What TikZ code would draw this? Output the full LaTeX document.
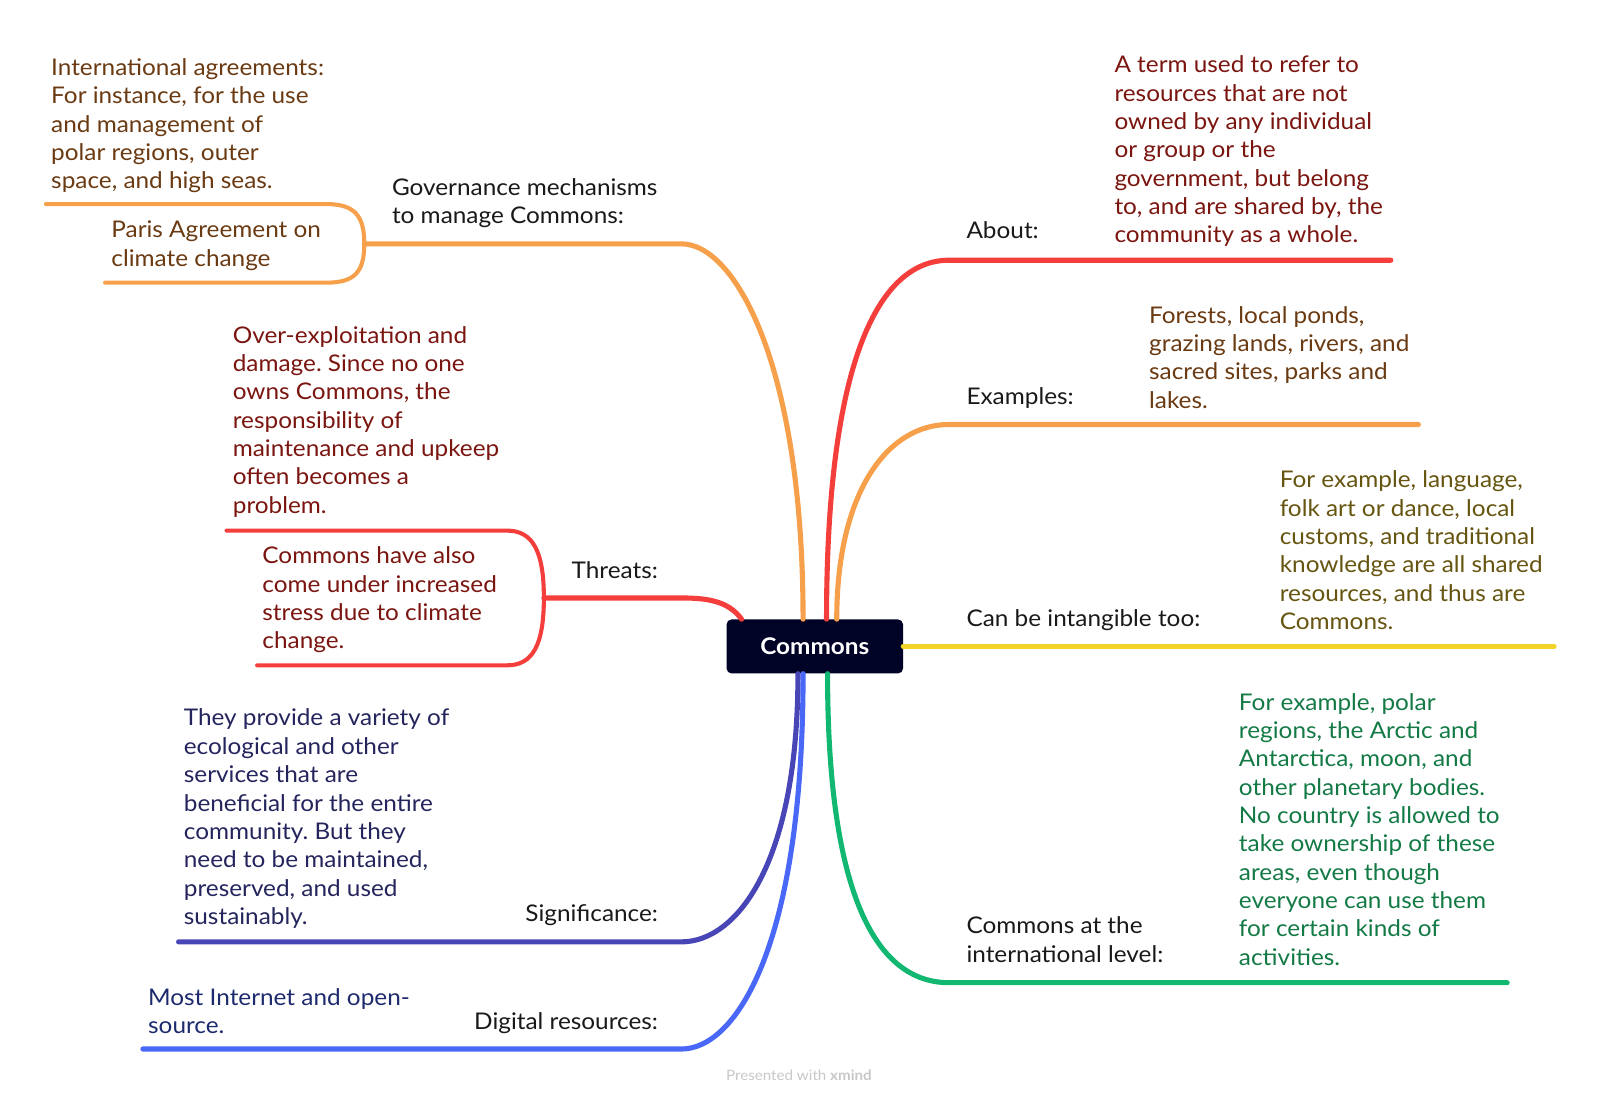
\documentclass[tikz,border=0pt]{standalone}
\usepackage{fontspec}
\setmainfont{Lato}[FakeStretch=1.06]
\frenchspacing
\usetikzlibrary{positioning, calc}
\definecolor{mapnavy}{HTML}{000226}
\definecolor{mapred}{HTML}{F43E3C}
\definecolor{maporange}{HTML}{F6A04B}
\definecolor{mapyellow}{HTML}{F2D328}
\definecolor{mapgreen}{HTML}{12B872}
\definecolor{mapindigo}{HTML}{4845B6}
\definecolor{mapblue}{HTML}{4A68F7}
\definecolor{notered}{HTML}{7A1510}
\definecolor{notebrown}{HTML}{6A3A12}
\definecolor{noteolive}{HTML}{665510}
\definecolor{notegreen}{HTML}{137A45}
\definecolor{noteindigo}{HTML}{25255E}
\definecolor{noteblue}{HTML}{1E2A6E}

\begin{document}
\begin{tikzpicture}[x=1pt, y=-1pt,
                    centraltopic/.style={rectangle, fill=mapnavy, text=white, rounded corners=5pt, minimum width=173pt, minimum height=53pt, font=\fontsize{22.5}{27}\selectfont\bfseries},
                    maintopic/.style={inner sep=0pt, align=left, text=black!90, font=\fontsize{22.5}{27.8}\selectfont},
                    notetext/.style={inner sep=0pt, align=left, font=\fontsize{22.5}{27.8}\selectfont},
                    mainbranch/.style={line width=5pt, line cap=round},
                    subbranch/.style={line width=4pt, line cap=round}]

    \useasboundingbox (0,0) rectangle (1568,1080);

    % Central topic
    \node[centraltopic] (commons) at (798.5,633.5) {Commons};

    % Right topics (anchored at the baseline of the last line)
    \node[maintopic, anchor=base west] (about) at (947,234) {About:};
    \node[maintopic, anchor=base west] (examples) at (947,396) {Examples:};
    \node[maintopic, anchor=base west] (intangible) at (947,614) {Can be intangible too:};
    \node[maintopic, anchor=base west] (international) at (947,943) {Commons at the\\international level:};

    \node[notetext, text=notered, anchor=base west] (aboutnote) at (1092,238) {A term used to refer to\\resources that are not\\owned by any individual\\or group or the\\government, but belong\\to, and are shared by, the\\community as a whole.};
    \node[notetext, text=notebrown, anchor=base west] (examplesnote) at (1126,400) {Forests, local ponds,\\grazing lands, rivers, and\\sacred sites, parks and\\lakes.};
    \node[notetext, text=noteolive, anchor=base west] (intangiblenote) at (1254,617) {For example, language,\\folk art or dance, local\\customs, and traditional\\knowledge are all shared\\resources, and thus are\\Commons.};
    \node[notetext, text=notegreen, anchor=base west] (internationalnote) at (1214,946) {For example, polar\\regions, the Arctic and\\Antarctica, moon, and\\other planetary bodies.\\No country is allowed to\\take ownership of these\\areas, even though\\everyone can use them\\for certain kinds of\\activities.};

    % Left topics
    \node[maintopic, anchor=base west] (governance) at (384,219) {Governance mechanisms\\to manage Commons:};
    \node[maintopic, anchor=base east] (threats) at (645,567) {Threats:};
    \node[maintopic, anchor=base east] (significance) at (645,903) {Significance:};
    \node[maintopic, anchor=base east] (digital) at (645,1009) {Digital resources:};

    \node[notetext, text=notebrown, anchor=base west] (agreementsnote) at (50,185) {International agreements:\\For instance, for the use\\and management of\\polar regions, outer\\space, and high seas.};
    \node[notetext, text=notebrown, anchor=base west] (parisnote) at (109,261) {Paris Agreement on\\climate change};
    \node[notetext, text=notered, anchor=base west] (exploitnote) at (228,503) {Over-exploitation and\\damage. Since no one\\owns Commons, the\\responsibility of\\maintenance and upkeep\\often becomes a\\problem.};
    \node[notetext, text=notered, anchor=base west] (climatenote) at (257,636) {Commons have also\\come under increased\\stress due to climate\\change.};
    \node[notetext, text=noteindigo, anchor=base west] (significancenote) at (180,906) {They provide a variety of\\ecological and other\\services that are\\beneficial for the entire\\community. But they\\need to be maintained,\\preserved, and used\\sustainably.};
    \node[notetext, text=noteblue, anchor=base west] (digitalnote) at (145,1013) {Most Internet and open-\\source.};

    % Branch ends
    \coordinate (about-j) at (930,255);
    \coordinate (about-e) at (1363,255);
    \coordinate (examples-j) at (930,416);
    \coordinate (examples-e) at (1390,416);
    \coordinate (intangible-e) at (1523,633.5);
    \coordinate (international-j) at (930,963);
    \coordinate (international-e) at (1477,963);
    \coordinate (governance-j) at (668,239);
    \coordinate (governance-k) at (357,239);
    \coordinate (agreements-e) at (45,200);
    \coordinate (paris-e) at (103,277);
    \coordinate (threats-j) at (668,586);
    \coordinate (threats-k) at (533,586);
    \coordinate (exploit-e) at (222,520);
    \coordinate (climate-e) at (252,652);
    \coordinate (significance-j) at (668,923);
    \coordinate (significance-e) at (175,923);
    \coordinate (digital-j) at (668,1028);
    \coordinate (digital-e) at (140,1028);

    % Right branches
    \draw[mainbranch, mapred] ([xshift=11.5pt]commons.north) .. controls +(0,-250) and +(-70,0) .. (about-j) -- (about-e);
    \draw[mainbranch, maporange] ([xshift=21.5pt]commons.north) .. controls +(0,-125) and +(-60,0) .. (examples-j) -- (examples-e);
    \draw[mainbranch, mapyellow] (commons.east) -- (intangible-e);
    \draw[mainbranch, mapgreen] ([xshift=12.5pt]commons.south) .. controls +(0,220) and +(-70,0) .. (international-j) -- (international-e);

    % Left branches
    \draw[mainbranch, maporange] ([xshift=-11.5pt]commons.north) .. controls +(0,-250) and +(52,0) .. (governance-j) -- (governance-k);
    \draw[subbranch, maporange] (governance-k) .. controls +(0,-27) and +(28,0) .. (320,200) -- (agreements-e);
    \draw[subbranch, maporange] (governance-k) .. controls +(0,27) and +(28,0) .. (320,277) -- (paris-e);
    \draw[mainbranch, mapred] ([xshift=15pt]commons.north west) .. controls +(-12,-16) and +(30,0) .. (threats-j) -- (threats-k);
    \draw[subbranch, mapred] (threats-k) .. controls +(0,-46) and +(25,0) .. (497,520) -- (exploit-e);
    \draw[subbranch, mapred] (threats-k) .. controls +(0,46) and +(25,0) .. (497,652) -- (climate-e);
    \draw[mainbranch, mapindigo] ([xshift=-16.5pt]commons.south) .. controls +(0,190) and +(52,0) .. (significance-j) -- (significance-e);
    \draw[mainbranch, mapblue] ([xshift=-11.5pt]commons.south) .. controls +(0,270) and +(52,0) .. (digital-j) -- (digital-e);

    % Footer
    \node[font=\fontsize{14}{16}\selectfont, text=black!22] (footer) at (783,1054) {Presented with \textbf{xmind}};

\end{tikzpicture}
\end{document}
